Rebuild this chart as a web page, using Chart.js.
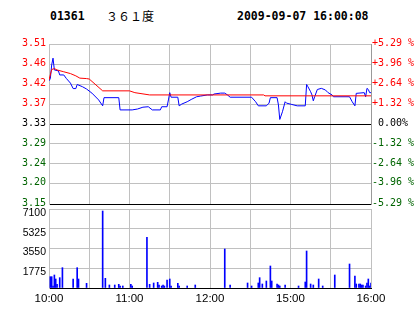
<!DOCTYPE html>
<html>
<head>
<meta charset="utf-8">
<script src="https://cdn.jsdelivr.net/npm/chart.js@4"></script>
<style>
  body { margin: 0; background: #fff; }
  #wrap { position: relative; width: 414px; height: 314px; overflow: hidden; }
  .hd { position: absolute; top: 9px; font: bold 11.5px "DejaVu Sans Mono"; line-height: 14px; color: #000; }
  canvas { position: absolute; left: 0; }
</style>
</head>
<body>
<div id="wrap">
  <span class="hd" style="left:50px">01361</span>
  <span class="hd" style="left:106px;font:12px 'Noto Sans CJK SC';top:7px">３６１度</span>
  <span class="hd" style="left:237px">2009-09-07 16:00:08</span>
  <canvas id="priceChart" width="414" height="214" style="top:0"></canvas>
  <canvas id="volChart" width="414" height="118" style="top:196px"></canvas>
</div>
<script>
// 分时数据 (分钟, 从 10:00 起, 午休略去)
const prevClose = 3.33;
const pctSteps = [-5.29, -3.96, -2.64, -1.32, 0, 1.32, 2.64, 3.96, 5.29];
const priceLabels = ['3.15', '3.20', '3.24', '3.29', '3.33', '3.37', '3.42', '3.46', '3.51'];
const pctLabels = ['-5.29 %', '-3.96 %', '-2.64 %', '-1.32 %', ' 0.00%', '+1.32 %', '+2.64 %', '+3.96 %', '+5.29 %'];
const timeTicks = [0, 60, 120, 180, 240];
const timeLabels = ['10:00', '11:00', '12:00', '15:00', '16:00'];
const volTicks = [0, 1775, 3550, 5325, 7100];

const priceTimes = [0,1,2,3,4,7,8,11,13,16,18,20,21,25,28,32,37,40,41,52,53,62,66,70,74,77,83,84,88,89,90,91,96,97,99,103,106,110,113,118,122,123,128,131,133,135,151,154,156,162,164,165,170,171,172,174,176,177,181,185,191,192,193,195,196,197,198,200,203,206,208,211,212,224,226,228,229,235,236,237,238,239,240];
const prices = [3.425,3.43,3.46,3.475,3.449,3.447,3.438,3.438,3.43,3.42,3.408,3.408,3.417,3.412,3.407,3.398,3.383,3.37,3.388,3.388,3.361,3.361,3.363,3.367,3.368,3.361,3.361,3.368,3.368,3.383,3.399,3.389,3.389,3.37,3.374,3.379,3.384,3.39,3.3915,3.394,3.394,3.396,3.398,3.398,3.394,3.389,3.389,3.379,3.37,3.37,3.376,3.388,3.388,3.372,3.34,3.357,3.379,3.376,3.373,3.37,3.37,3.417,3.412,3.401,3.394,3.381,3.39,3.406,3.4085,3.405,3.399,3.394,3.39,3.39,3.379,3.37,3.3975,3.399,3.39,3.4085,3.406,3.399,3.399];

const avgTimes = [0,2,4,6,11,16,20,23,28,30,40,60,64,75,160,161,240];
const avgPrices = [3.427,3.45,3.452,3.449,3.445,3.441,3.436,3.431,3.43,3.429,3.403,3.403,3.399,3.394,3.394,3.392,3.392];

const volTimes = [1,2,3,4,5,6,8,10,18,21,22,28,40,42,45,49,52,53,55,61,62,73,75,78,81,82,84,85,86,88,90,91,96,97,103,109,131,135,148,151,156,157,159,162,165,166,170,171,172,176,186,191,192,195,197,201,204,213,224,228,229,231,232,233,234,236,237,238,239,240];
const volumes = [1016,1016,180,1168,809,330,928,1827,809,1827,809,420,6920,869,270,270,330,180,180,330,180,4555,330,450,510,270,180,270,180,719,809,180,420,180,180,270,3505,270,450,180,450,928,360,629,1977,629,360,270,180,270,180,540,3325,360,270,809,180,1168,2157,1078,360,360,360,270,270,180,450,809,180,450];

const red = '#ff0000', green = '#006400', grid = '#c0c0c0';
const yMin = prevClose * (1 - 0.0529);
const yMax = prevClose * (1 + 0.0529);
const stepTicks = axis => { axis.ticks = pctSteps.map(p => ({ value: prevClose * (1 + p / 100) })); };
const tickColor = c => {
  const v = c.tick.value;
  if (v > prevClose + 1e-6) return red;
  if (v < prevClose - 1e-6) return green;
  return '#000';
};
const monoFont = { family: 'DejaVu Sans Mono', size: 10 };
const sansFont = { family: 'Liberation Sans', size: 10.5 };

new Chart(document.getElementById('priceChart'), {
  type: 'line',
  data: {
    datasets: [{
      label: '均价',
      data: avgTimes.map((t, i) => ({ x: t, y: avgPrices[i] })),
      borderColor: red,
      borderWidth: 1,
      pointRadius: 0
    }, {
      label: '价格',
      data: priceTimes.map((t, i) => ({ x: t, y: prices[i] })),
      borderColor: '#0000ff',
      borderWidth: 1,
      pointRadius: 0
    }]
  },
  options: {
    responsive: false,
    animation: false,
    events: [],
    layout: { padding: { top: 44, bottom: 10, left: 0, right: 0 } },
    plugins: { legend: { display: false }, tooltip: { enabled: false } },
    scales: {
      x: {
        type: 'linear', min: 0, max: 240,
        ticks: { display: false, stepSize: 30 },
        grid: { color: grid, drawTicks: false },
        border: { color: '#000' },
        afterFit: s => { s.height = 0; }
      },
      y: {
        position: 'left', min: yMin, max: yMax,
        afterBuildTicks: stepTicks,
        ticks: { callback: (v, i) => priceLabels[i], color: tickColor, font: monoFont, padding: 3, labelOffset: -1 },
        grid: { color: c => (c.index === 0 || Math.abs(c.tick.value - prevClose) < 1e-6) ? '#000' : grid, drawTicks: false },
        border: { color: grid },
        afterFit: s => { s.width = 49; }
      },
      y2: {
        position: 'right', min: yMin, max: yMax,
        afterBuildTicks: stepTicks,
        ticks: { callback: (v, i) => pctLabels[i], color: tickColor, font: monoFont, padding: 1, labelOffset: -1 },
        grid: { drawOnChartArea: false, drawTicks: false },
        border: { color: '#999' },
        afterFit: s => { s.width = 43; }
      }
    }
  }
});

new Chart(document.getElementById('volChart'), {
  type: 'bar',
  data: {
    datasets: [{
      label: '成交量',
      data: volTimes.map((t, i) => ({ x: t, y: volumes[i] })),
      backgroundColor: '#0000ff',
      barThickness: 1
    }]
  },
  options: {
    responsive: false,
    animation: false,
    events: [],
    layout: { padding: { top: 13, bottom: 0, left: 0, right: 43 } },
    plugins: { legend: { display: false }, tooltip: { enabled: false } },
    scales: {
      x: {
        type: 'linear', min: 0, max: 240, offset: false,
        ticks: {
          stepSize: 30, autoSkip: false, maxRotation: 0, padding: 4,
          font: { family: 'Liberation Sans', size: 11.5 }, color: '#000',
          callback: v => { const i = timeTicks.indexOf(v); return i >= 0 ? timeLabels[i] : ''; }
        },
        grid: { color: grid, drawTicks: false, offset: false },
        border: { color: '#000' },
        afterFit: s => { s.height = 26; }
      },
      y: {
        min: 0, max: 7100,
        afterBuildTicks: axis => { axis.ticks = volTicks.map(v => ({ value: v })); },
        ticks: { callback: v => v ? String(v) : '', color: '#000', font: sansFont, padding: 3, labelOffset: 4 },
        grid: { color: c => c.index === 0 ? '#000' : grid, drawTicks: false },
        border: { color: grid },
        afterFit: s => { s.width = 49; }
      }
    }
  }
});
</script>
</body>
</html>
